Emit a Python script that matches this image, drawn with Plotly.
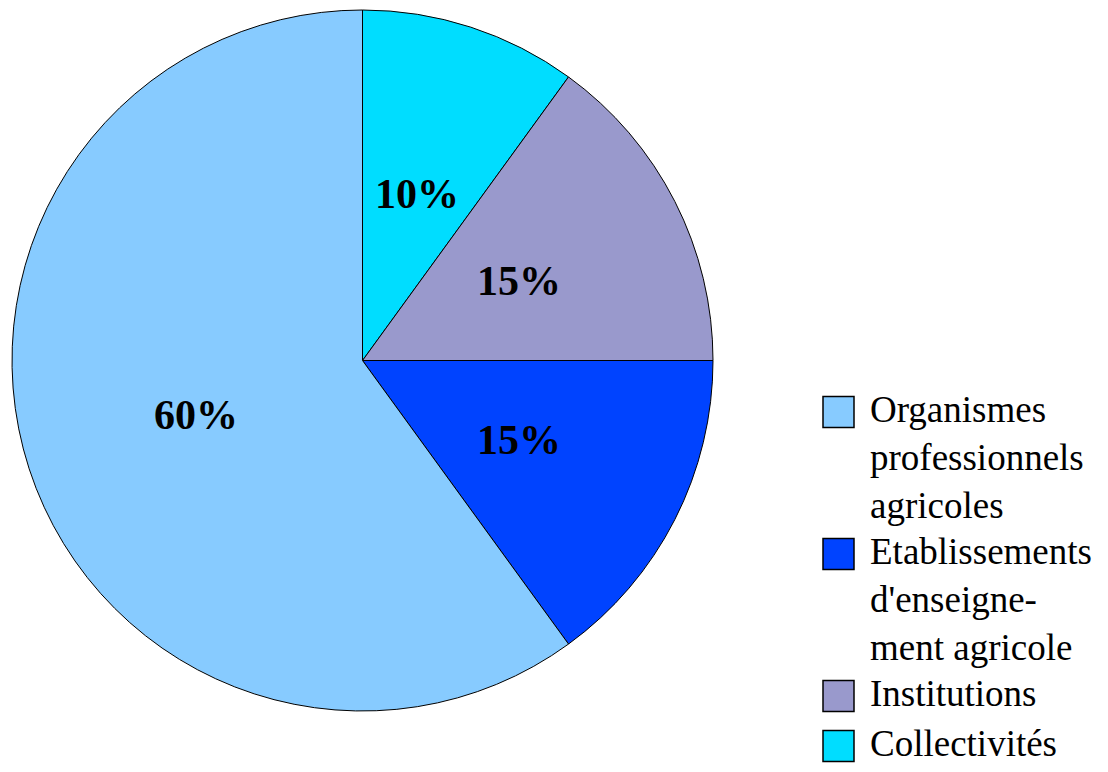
import math
import plotly.graph_objects as go

categories = ["Organismes<br>professionnels<br>agricoles",
              "Etablissements<br>d'enseigne-<br>ment agricole",
              "Institutions",
              "Collectivités"]
values = [60, 15, 15, 10]
colors = ["#87CBFF", "#0043FF", "#9999CC", "#00DDFF"]

W, H = 1108, 772
OFF = 8  # page body margin offset of the rendered figure


def xp(px):
    return (px - OFF) / W


def yp(py):
    return 1 - (py - OFF) / H


# pie geometry (window pixels)
pie_left, pie_right, pie_top, pie_bottom = 12, 713, 10, 711
cx = (pie_left + pie_right) / 2
cy = (pie_top + pie_bottom) / 2
R = (pie_right - pie_left) / 2

# slices run counterclockwise from 12 o'clock in the reference:
# feed them reversed with a clockwise direction
fig = go.Figure(go.Pie(
    labels=categories[::-1],
    values=values[::-1],
    sort=False,
    direction="clockwise",
    rotation=0,
    marker=dict(colors=colors[::-1], line=dict(color="black", width=1)),
    textinfo="none",
    domain=dict(x=[xp(pie_left), xp(pie_right)], y=[yp(pie_bottom), yp(pie_top)]),
    hoverinfo="label+percent",
    showlegend=False,
))

# percentage labels at half radius on each slice bisector (counterclockwise from top)
total = sum(values)
cum = 0
annotations = []
for v in values:
    theta = math.radians((cum + v / 2) / total * 360)
    x = cx - 0.5 * R * math.sin(theta)
    y = cy - 0.5 * R * math.cos(theta)
    annotations.append(dict(
        x=xp(x), y=yp(y), xref="paper", yref="paper",
        text="<b>%d%%</b>" % round(v / total * 100), showarrow=False,
        font=dict(family="Liberation Serif", size=42, color="black"),
        xanchor="center", yanchor="middle",
    ))
    cum += v

# custom legend
leg_font = 37
line_h = 46
gap = 4
sq = 31
sq_left = 823
text_left = 868
y_center = 412
shapes = []
for name, col in zip(categories, colors):
    n_lines = name.count("<br>") + 1
    shapes.append(dict(
        type="rect", xref="paper", yref="paper",
        x0=xp(sq_left), x1=xp(sq_left + sq),
        y0=yp(y_center + sq / 2), y1=yp(y_center - sq / 2),
        fillcolor=col, line=dict(color="black", width=1.5),
    ))
    annotations.append(dict(
        x=xp(text_left), y=yp(y_center), xref="paper", yref="paper",
        text=name, showarrow=False, align="left",
        font=dict(family="Liberation Serif", size=leg_font, color="black"),
        xanchor="left", yanchor="top",
        yshift=leg_font * 1.3 / 2 + 1,
    ))
    y_center += n_lines * line_h + gap

fig.update_layout(
    width=W, height=H,
    margin=dict(l=0, r=0, t=0, b=0),
    paper_bgcolor="white",
    plot_bgcolor="white",
    showlegend=False,
    annotations=annotations,
    shapes=shapes,
)

fig.write_html("out.html")
